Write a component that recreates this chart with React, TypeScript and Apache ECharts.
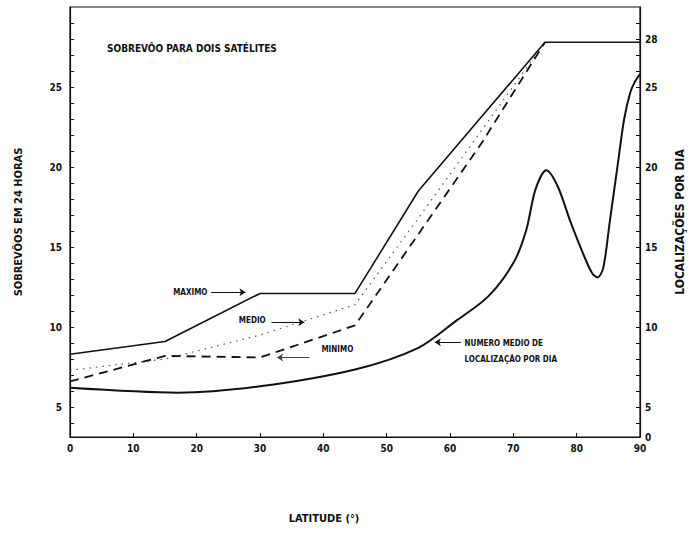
import React, { useEffect, useRef } from "react";
import * as echarts from "echarts";

// Latitude (degrees) and values
const maxLat = [0, 15, 30, 45, 55, 75, 90];
const maxVal = [8.3, 9.1, 12.1, 12.1, 18.5, 27.8, 27.8];

const medLat = [0, 15, 30, 45, 55, 65, 75];
const medVal = [7.3, 8.0, 9.5, 11.4, 16.8, 22.3, 27.8];

const minLat = [0, 15, 30, 45, 55, 65, 75];
const minVal = [6.6, 8.2, 8.1, 10.1, 15.8, 21.5, 27.8];

const locLat = [0, 17, 30, 45, 55, 61, 66, 70, 72, 73.5, 75.2, 77, 79, 81, 82.4, 83.3, 84.2, 85.2, 86.5, 87.5, 88.5, 89.3, 90];
const locVal = [6.2, 5.9, 6.3, 7.35, 8.7, 10.4, 11.9, 14.0, 16.0, 18.6, 19.8, 18.8, 16.6, 14.6, 13.4, 13.1, 13.7, 16.5, 20.2, 23.0, 24.7, 25.4, 25.8];

const leftTicks = [5, 10, 15, 20, 25];
const rightTicks = [5, 10, 15, 20, 25, 28];

const yMin = 3.13;
const yMax = 30;

const F = "'DejaVu Sans Condensed', 'DejaVu Sans', sans-serif";
const INK = "#111";

const pairs = (xs: number[], ys: number[]) => xs.map((x, i) => [x, ys[i]]);
const range = (a: number, b: number) => {
  const r: number[] = [];
  for (let v = a; v <= b; v++) r.push(v);
  return r;
};

export default function App() {
  const ref = useRef<HTMLDivElement>(null);
  useEffect(() => {
    const chart = echarts.init(ref.current!, null, { renderer: "svg" });
    const arrowLine = (a: number[], b: number[]) => [{ coord: a }, { coord: b }];
    const option: any = {
      animation: false,
      backgroundColor: "#fff",
      title: {
        text: "SOBREVÔO PARA DOIS SATÉLITES",
        left: 102,
        top: 38,
        textStyle: { fontFamily: F, fontSize: 10, fontWeight: "bold", color: INK },
      },
      grid: { left: 70, right: 52, top: 7, bottom: 110, show: true, borderColor: INK, borderWidth: 1.2, backgroundColor: "transparent" },
      xAxis: {
        type: "value",
        min: 0,
        max: 90,
        interval: 10,
        name: "LATITUDE (°)",
        nameLocation: "middle",
        nameGap: 76,
        nameTextStyle: { fontFamily: F, fontSize: 11, fontWeight: "bold", color: INK, padding: [0, 62, 0, 0] },
        axisLine: { show: true, lineStyle: { color: INK, width: 1.2 } },
        axisTick: { show: true, inside: true, length: 4, lineStyle: { color: INK } },
        axisLabel: { fontFamily: F, fontSize: 10, fontWeight: "bold", color: INK, margin: 6 },
        splitLine: { show: false },
      },
      yAxis: [
        {
          type: "value",
          min: yMin,
          max: yMax,
          name: "SOBREVÔOS EM 24 HORAS",
          nameLocation: "middle",
          nameRotate: 90,
          nameGap: 46,
          nameTextStyle: { fontFamily: F, fontSize: 11, fontWeight: "bold", color: INK },
          axisLine: { show: true, lineStyle: { color: INK, width: 1.2 } },
          axisTick: { show: true, inside: true, length: 4, customValues: range(4, 29), lineStyle: { color: INK } },
          axisLabel: { customValues: leftTicks, fontFamily: F, fontSize: 10, fontWeight: "bold", color: INK, margin: 8 },
          splitLine: { show: false },
        },
        {
          type: "value",
          position: "right",
          min: yMin,
          max: yMax,
          name: "LOCALIZAÇÕES POR DIA",
          nameLocation: "middle",
          nameRotate: 90,
          nameGap: 34,
          nameTextStyle: { fontFamily: F, fontSize: 12, fontWeight: "bold", color: INK },
          axisLine: { show: true, lineStyle: { color: INK, width: 1.2 } },
          axisTick: { show: true, inside: true, length: 4, customValues: range(4, 29), lineStyle: { color: INK } },
          axisLabel: {
            customValues: [yMin, ...rightTicks],
            formatter: (v: number) => (v < 4 ? "0" : String(Math.round(v))),
            fontFamily: F,
            fontSize: 10,
            fontWeight: "bold",
            color: INK,
            margin: 5,
          },
          splitLine: { show: false },
        },
      ],
      series: [
        {
          name: "Máximo",
          type: "line",
          data: pairs(maxLat, maxVal),
          showSymbol: false,
          lineStyle: { color: INK, width: 1.6 },
          markLine: {
            silent: true,
            symbol: ["none", "arrow"],
            symbolSize: 6,
            label: { show: false },
            lineStyle: { color: INK, width: 1, type: "solid" },
            data: [arrowLine([22.3, 12.17], [27.7, 12.17])],
          },
        },
        {
          name: "Médio",
          type: "line",
          data: pairs(medLat, medVal),
          showSymbol: false,
          lineStyle: { color: "#555", width: 1.2, type: [1.5, 5] },
          markLine: {
            silent: true,
            symbol: ["none", "arrow"],
            symbolSize: 6,
            label: { show: false },
            lineStyle: { color: INK, width: 1, type: "solid" },
            data: [arrowLine([31.8, 10.3], [37.0, 10.3])],
          },
        },
        {
          name: "Mínimo",
          type: "line",
          data: pairs(minLat, minVal),
          showSymbol: false,
          lineStyle: { color: INK, width: 1.8, type: [9, 6] },
          markLine: {
            silent: true,
            symbol: ["none", "arrow"],
            symbolSize: 6,
            label: { show: false },
            lineStyle: { color: "#444", width: 1, type: "solid" },
            data: [arrowLine([37.8, 8.1], [32.7, 8.1])],
          },
        },
        {
          name: "Número médio de localização por dia",
          type: "line",
          yAxisIndex: 1,
          data: pairs(locLat, locVal),
          showSymbol: false,
          smooth: 0.3,
          lineStyle: { color: INK, width: 2 },
          markLine: {
            silent: true,
            symbol: ["none", "arrow"],
            symbolSize: 6,
            label: { show: false },
            lineStyle: { color: INK, width: 1, type: "solid" },
            data: [arrowLine([61.7, 9.05], [57.6, 9.05])],
          },
        },
      ],
    };
    chart.setOption(option);

    const p = (lat: number, val: number) => chart.convertToPixel({ gridIndex: 0 }, [lat, val]) as number[];
    const txt = (text: string, at: number[], align: string) => ({
      type: "text",
      x: at[0],
      y: at[1],
      style: { text, fill: INK, font: `bold 8px ${F}`, textAlign: align, textVerticalAlign: "middle" },
    });
    chart.setOption({
      graphic: [
        txt("MAXIMO", p(21.7, 12.17), "right"),
        txt("MEDIO", p(30.9, 10.4), "right"),
        txt("MINIMO", p(39.7, 8.6), "left"),
        txt("NUMERO MEDIO DE", p(62.3, 9.0), "left"),
        txt("LOCALIZAÇÃO POR DIA", p(62.3, 7.95), "left"),
      ],
    });
    return () => chart.dispose();
  }, []);
  return <div ref={ref} style={{ position: "fixed", left: 0, top: 0, width: 694, height: 547 }} />;
}
